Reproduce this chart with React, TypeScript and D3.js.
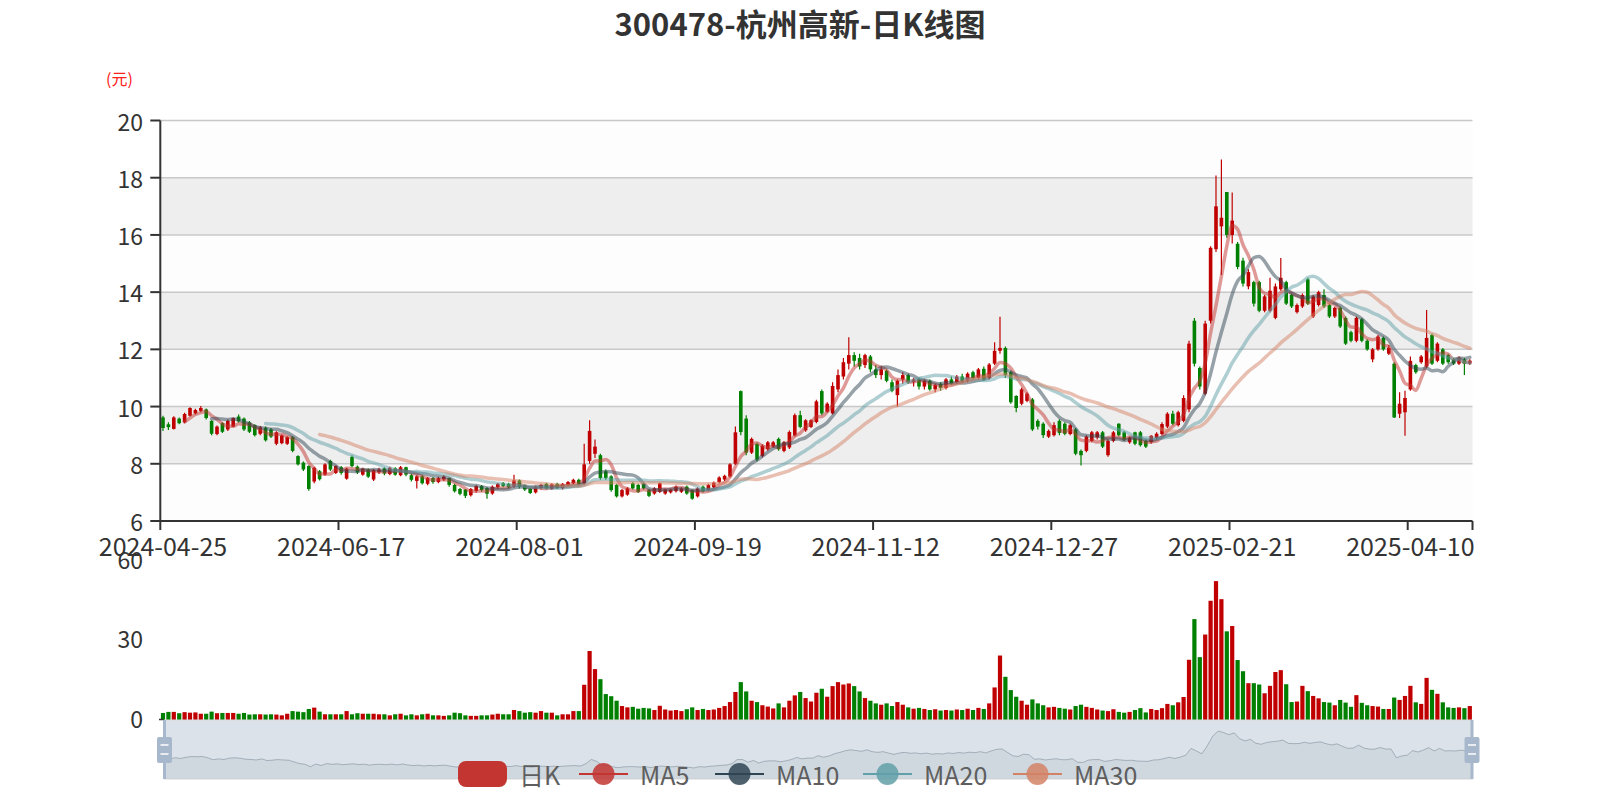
import React from "react";
import * as d3 from "d3";

const title = "300478-杭州高新-日K线图";
const dayCount = 243;
// exchange closed on these weekdays
const holidays = [
  "2024-05-01", "2024-05-02", "2024-05-03", "2024-06-10", "2024-09-16", "2024-09-17",
  "2024-10-01", "2024-10-02", "2024-10-03", "2024-10-04", "2024-10-07", "2025-01-01",
  "2025-01-28", "2025-01-29", "2025-01-30", "2025-01-31", "2025-02-03", "2025-02-04",
  "2025-04-04",
];

function tradingDays(): string[] {
  const out: string[] = [];
  const d = new Date(Date.UTC(2024, 3, 25));
  while (out.length < dayCount) {
    const s = d.toISOString().slice(0, 10);
    const wd = d.getUTCDay();
    if (wd !== 0 && wd !== 6 && !holidays.includes(s)) out.push(s);
    d.setUTCDate(d.getUTCDate() + 1);
  }
  return out;
}
const dates = tradingDays();

// [open, close, low, high]
const kData: number[][] = [
  [9.62, 9.25, 9.15, 9.68], [9.38, 9.28, 9.18, 9.45], [9.22, 9.62, 9.2, 9.66], [9.58, 9.42, 9.38, 9.62],
  [9.45, 9.74, 9.42, 9.78], [9.68, 9.95, 9.65, 9.98], [9.76, 9.88, 9.72, 9.92], [9.85, 9.95, 9.8, 10.02],
  [9.9, 9.6, 9.55, 9.93], [9.5, 9.05, 9.0, 9.52], [9.04, 9.3, 9.0, 9.34], [9.42, 9.12, 9.08, 9.45],
  [9.2, 9.5, 9.15, 9.55], [9.3, 9.6, 9.28, 9.62], [9.65, 9.48, 9.44, 9.72], [9.58, 9.2, 9.15, 9.62],
  [9.45, 9.12, 9.08, 9.5], [9.35, 9.0, 8.95, 9.38], [9.05, 9.28, 9.0, 9.32], [9.26, 8.82, 8.78, 9.3],
  [9.2, 8.95, 8.9, 9.25], [8.7, 9.1, 8.65, 9.14], [8.72, 8.99, 8.68, 9.02], [8.7, 8.93, 8.66, 8.96],
  [8.93, 8.45, 8.4, 8.96], [8.27, 7.98, 7.94, 8.3], [8.04, 7.8, 7.75, 8.08], [7.92, 7.12, 7.06, 7.95],
  [7.38, 7.86, 7.32, 7.9], [7.74, 7.46, 7.42, 7.78], [7.62, 7.98, 7.58, 8.02], [8.1, 7.8, 7.75, 8.14],
  [7.68, 7.92, 7.64, 7.95], [7.88, 7.68, 7.62, 7.92], [7.48, 7.83, 7.44, 7.86], [8.24, 7.92, 7.88, 8.3],
  [7.9, 7.7, 7.64, 7.94], [7.62, 7.82, 7.58, 7.86], [7.8, 7.55, 7.5, 7.84], [7.45, 7.78, 7.4, 7.82],
  [7.7, 7.8, 7.64, 7.86], [7.84, 7.66, 7.6, 7.88], [7.64, 7.86, 7.6, 7.9], [7.84, 7.62, 7.58, 7.88],
  [7.6, 7.88, 7.56, 7.92], [7.88, 7.62, 7.56, 7.9], [7.6, 7.44, 7.38, 7.64], [7.4, 7.56, 7.14, 7.6],
  [7.56, 7.32, 7.28, 7.6], [7.3, 7.5, 7.25, 7.54], [7.5, 7.36, 7.3, 7.54], [7.36, 7.5, 7.32, 7.55],
  [7.45, 7.55, 7.4, 7.6], [7.5, 7.26, 7.2, 7.52], [7.26, 7.04, 7.0, 7.3], [7.12, 6.95, 6.9, 7.15],
  [7.1, 6.88, 6.8, 7.12], [6.9, 7.12, 6.86, 7.15], [7.05, 7.22, 7.0, 7.25], [7.22, 7.08, 7.02, 7.26],
  [7.15, 6.95, 6.78, 7.18], [6.96, 7.2, 6.92, 7.24], [7.18, 7.3, 7.12, 7.33], [7.32, 7.22, 7.18, 7.36],
  [7.3, 7.18, 7.14, 7.34], [7.2, 7.42, 7.16, 7.62], [7.42, 7.2, 7.14, 7.45], [7.25, 7.1, 7.05, 7.28],
  [7.12, 6.98, 6.94, 7.15], [7.0, 7.2, 6.96, 7.24], [7.15, 7.26, 7.1, 7.3], [7.3, 7.14, 7.1, 7.34],
  [7.12, 7.28, 7.08, 7.32], [7.3, 7.16, 7.12, 7.34], [7.14, 7.3, 7.1, 7.33], [7.25, 7.36, 7.22, 7.4],
  [7.32, 7.44, 7.28, 7.48], [7.44, 7.3, 7.24, 7.48], [7.3, 7.98, 7.26, 8.7], [8.1, 9.15, 8.0, 9.52],
  [8.35, 8.6, 8.2, 8.85], [8.3, 7.5, 7.44, 8.35], [7.74, 7.5, 7.44, 7.8], [7.56, 7.08, 7.02, 7.6],
  [7.26, 6.86, 6.82, 7.3], [6.86, 7.08, 6.82, 7.12], [6.92, 7.14, 6.88, 7.18], [7.32, 7.14, 7.1, 7.36],
  [7.26, 7.02, 6.98, 7.3], [7.3, 7.14, 7.1, 7.34], [7.08, 6.88, 6.84, 7.12], [6.96, 7.14, 6.92, 7.18],
  [7.02, 7.32, 6.98, 7.35], [6.96, 7.1, 6.92, 7.13], [7.0, 7.1, 6.96, 7.13], [7.04, 7.2, 7.0, 7.24],
  [7.02, 7.14, 6.98, 7.18], [7.2, 6.96, 6.92, 7.24], [7.08, 6.78, 6.74, 7.1], [6.86, 7.14, 6.82, 7.18],
  [7.2, 7.04, 7.0, 7.24], [7.08, 7.26, 7.04, 7.3], [7.18, 7.34, 7.14, 7.38], [7.36, 7.52, 7.32, 7.56],
  [7.45, 7.58, 7.4, 7.62], [7.56, 7.98, 7.52, 8.02], [8.0, 9.1, 7.96, 9.3], [10.54, 9.11, 9.0, 10.56],
  [9.58, 8.39, 8.3, 9.7], [8.39, 8.87, 8.34, 8.92], [8.69, 8.15, 8.08, 8.74], [8.27, 8.63, 8.22, 8.68],
  [8.51, 8.75, 8.46, 8.8], [8.6, 8.75, 8.56, 8.8], [8.87, 8.51, 8.46, 8.92], [8.45, 8.75, 8.4, 8.8],
  [8.57, 9.11, 8.52, 9.16], [8.99, 9.7, 8.95, 9.76], [9.7, 9.29, 9.24, 9.85], [9.17, 9.52, 9.12, 9.56],
  [9.29, 9.52, 9.25, 9.56], [9.46, 10.18, 9.42, 10.24], [10.54, 9.76, 9.7, 10.6], [9.82, 10.1, 9.78, 10.15],
  [9.76, 10.72, 9.72, 10.85], [10.6, 11.1, 10.5, 11.3], [11.05, 11.55, 10.95, 11.7], [11.5, 11.8, 11.3, 12.42],
  [11.8, 11.6, 11.4, 11.9], [11.7, 11.4, 11.3, 11.85], [11.45, 11.8, 11.35, 11.85], [11.75, 11.3, 11.2, 11.8],
  [11.3, 11.1, 11.0, 11.45], [11.1, 11.3, 10.95, 11.4], [11.25, 10.9, 10.85, 11.3], [10.85, 10.55, 10.5, 10.95],
  [10.4, 10.9, 10.0, 10.95], [10.95, 11.1, 10.8, 11.2], [11.1, 10.85, 10.8, 11.15], [10.85, 10.95, 10.7, 11.0],
  [10.95, 10.7, 10.6, 11.0], [10.7, 10.9, 10.6, 10.95], [10.9, 10.6, 10.55, 10.95], [10.6, 10.75, 10.5, 10.8],
  [10.8, 10.65, 10.55, 10.85], [10.65, 10.95, 10.6, 11.0], [10.95, 10.8, 10.75, 11.05], [10.85, 11.05, 10.8, 11.1],
  [11.05, 10.9, 10.85, 11.15], [10.9, 11.15, 10.85, 11.2], [11.2, 11.0, 10.95, 11.25], [11.0, 11.3, 10.95, 11.35],
  [11.32, 10.95, 10.9, 11.4], [11.0, 11.47, 10.95, 11.52], [11.5, 11.95, 11.45, 12.25], [11.95, 12.05, 11.85, 13.14],
  [12.05, 11.1, 11.0, 12.1], [11.2, 10.15, 10.1, 11.25], [10.37, 9.95, 9.8, 10.4], [10.1, 10.6, 10.05, 10.66],
  [10.2, 10.45, 10.15, 10.5], [10.25, 9.2, 9.15, 10.3], [9.5, 9.3, 9.2, 9.56], [9.4, 9.0, 8.9, 9.45],
  [8.95, 9.15, 8.9, 9.2], [9.0, 9.35, 8.95, 9.45], [9.5, 9.08, 9.0, 9.56], [9.4, 9.05, 9.0, 9.45],
  [9.04, 9.35, 9.0, 9.4], [9.2, 8.35, 8.3, 9.25], [8.45, 8.3, 7.94, 8.5], [8.45, 8.95, 8.4, 9.0],
  [8.8, 9.1, 8.75, 9.15], [8.92, 9.1, 8.85, 9.15], [9.1, 8.6, 8.55, 9.15], [8.3, 8.8, 8.25, 8.85],
  [8.8, 9.1, 8.75, 9.15], [9.4, 9.0, 8.95, 9.42], [9.1, 8.85, 8.8, 9.15], [8.75, 8.92, 8.7, 8.95],
  [9.1, 8.7, 8.65, 9.12], [9.1, 8.65, 8.6, 9.15], [8.8, 8.6, 8.55, 8.85], [8.75, 8.98, 8.7, 9.0],
  [8.9, 9.05, 8.85, 9.1], [9.04, 9.39, 9.0, 9.45], [9.3, 9.75, 9.25, 9.8], [9.75, 9.4, 9.35, 9.85],
  [9.35, 9.8, 9.3, 9.85], [9.5, 10.3, 9.45, 10.4], [9.9, 12.2, 9.8, 12.3], [13.0, 11.5, 11.4, 13.1],
  [11.35, 10.7, 10.6, 11.4], [10.45, 12.9, 10.4, 13.0], [13.0, 15.55, 12.9, 15.6], [15.5, 17.0, 15.4, 18.08],
  [16.3, 16.6, 14.6, 18.64], [17.5, 16.0, 15.9, 17.5], [16.0, 16.5, 15.7, 17.48], [15.69, 14.88, 14.8, 15.75],
  [15.1, 14.3, 14.2, 15.2], [14.2, 14.7, 14.1, 14.8], [14.35, 13.6, 13.5, 14.4], [14.35, 13.35, 13.3, 14.4],
  [13.35, 13.85, 13.3, 13.9], [13.35, 14.05, 13.3, 14.5], [13.1, 14.2, 13.05, 14.3], [14.1, 14.5, 14.05, 15.19],
  [14.35, 13.6, 13.55, 14.4], [13.9, 13.5, 13.45, 13.95], [13.3, 13.55, 13.25, 13.6], [13.5, 13.9, 13.45, 13.95],
  [14.45, 13.6, 13.55, 14.5], [13.15, 13.85, 13.1, 13.9], [13.55, 14.0, 13.5, 14.05], [13.9, 13.5, 13.45, 14.1],
  [13.55, 13.15, 13.1, 13.6], [13.15, 13.45, 13.1, 13.5], [13.45, 12.8, 12.75, 13.5], [13.1, 12.2, 12.15, 13.15],
  [12.6, 12.3, 12.25, 12.65], [12.3, 13.1, 12.25, 13.15], [13.05, 12.3, 12.25, 13.1], [12.3, 12.0, 11.95, 12.35],
  [11.65, 12.0, 11.55, 12.05], [12.0, 12.45, 11.95, 12.5], [12.4, 12.0, 11.95, 12.45], [11.85, 12.05, 11.8, 12.15],
  [11.5, 9.62, 9.6, 11.55], [9.75, 10.1, 9.6, 10.5], [9.8, 10.3, 8.98, 10.55], [10.6, 11.6, 10.55, 11.75],
  [11.45, 11.2, 11.15, 11.5], [11.55, 11.75, 11.5, 11.8], [11.4, 12.4, 11.35, 13.38], [12.5, 11.5, 11.45, 12.55],
  [11.6, 12.2, 11.55, 12.25], [12.0, 11.5, 11.45, 12.05], [11.8, 11.55, 11.5, 11.85], [11.65, 11.5, 11.45, 11.7],
  [11.5, 11.7, 11.45, 11.75], [11.65, 11.5, 11.1, 11.7], [11.5, 11.6, 11.45, 11.65],
];

// 成交量 (万手)
const volumes = [
  1.9, 2.3, 2.3, 1.8, 2.2, 2.0, 2.1, 1.6, 1.6, 2.4, 1.8, 1.9, 1.9, 1.9, 1.6, 1.9, 1.3, 1.4, 1.4, 1.3,
  1.4, 1.3, 1.0, 1.6, 2.6, 2.4, 2.2, 3.4, 3.9, 2.4, 1.4, 1.4, 1.4, 1.4, 2.6, 1.4, 1.8, 1.6, 1.6, 1.6,
  1.4, 1.4, 1.0, 1.4, 1.6, 1.0, 1.4, 1.0, 1.4, 1.6, 1.0, 1.0, 0.8, 1.0, 2.0, 1.8, 1.0, 0.8, 0.8, 1.0,
  1.0, 1.3, 1.6, 1.4, 1.4, 3.0, 2.6, 2.0, 2.2, 2.0, 2.6, 2.0, 2.0, 1.0, 1.4, 1.4, 2.6, 2.6, 12.5, 25.2,
  18.4, 14.6, 9.0, 8.2, 6.5, 4.5, 4.0, 4.2, 3.5, 3.8, 3.6, 3.0, 4.6, 3.2, 2.8, 3.0, 2.6, 3.3, 4.0, 3.0,
  3.4, 3.0, 3.2, 3.8, 4.5, 6.0, 9.8, 13.5, 10.0, 6.5, 6.0, 4.8, 4.3, 3.6, 5.5, 4.0, 6.5, 8.5, 9.8, 7.5,
  6.2, 9.5, 11.0, 8.0, 12.0, 13.5, 12.6, 13.0, 12.0, 10.0, 7.5, 6.5, 5.5, 5.0, 5.5, 4.5, 6.0, 5.0, 4.0, 3.5,
  3.8, 3.4, 3.0, 3.3, 2.8, 3.0, 2.8, 3.2, 3.0, 3.5, 3.0, 3.8, 3.4, 5.5, 11.5, 23.5, 15.5, 10.5, 8.0, 6.5,
  5.0, 7.0, 5.5, 4.8, 4.0, 4.2, 3.8, 3.5, 3.2, 4.5, 5.0, 4.2, 3.8, 3.2, 2.8, 2.6, 3.3, 2.3, 2.0, 2.3,
  3.0, 3.7, 2.1, 3.4, 3.0, 3.7, 5.3, 4.8, 5.9, 7.9, 21.9, 37.2, 22.9, 31.4, 44.1, 51.5, 44.7, 32.6, 34.6, 21.8,
  17.6, 13.1, 13.1, 12.6, 9.3, 12.1, 17.3, 18.0, 12.7, 6.0, 6.2, 12.1, 10.1, 8.3, 7.4, 6.0, 5.8, 4.8, 6.8, 5.8,
  4.2, 8.6, 5.7, 4.8, 4.5, 4.3, 3.4, 3.4, 7.7, 6.8, 8.3, 12.1, 5.9, 5.3, 15.1, 10.6, 9.1, 5.9, 4.0, 3.8,
  4.0, 3.7, 4.5,
];

const priceTicks = [6, 8, 10, 12, 14, 16, 18, 20];
const volumeTicks = [0, 30, 60];
const labelEvery = 33;
const maPeriods = [5, 10, 20, 30];
const maNames = ["MA5", "MA10", "MA20", "MA30"];
const maColors = ["#c23531", "#2f4554", "#61a0a8", "#d48265"];
const upColor = "#c00000";
const downColor = "#008000";
const font = "'Noto Sans CJK SC', 'Noto Sans', sans-serif";

function movingAverage(n: number, closes: number[]): (number | null)[] {
  return closes.map((_, i) => {
    if (i < n - 1) return null;
    let s = 0;
    for (let j = i - n + 1; j <= i; j++) s += closes[j];
    return s / n;
  });
}

export default function App() {
  const [gL, gR, gT, gB] = [160.3, 1472.5, 120.5, 521];
  const [vT, vB] = [558.5, 718];
  const [sL, sR, sT, sB] = [164.5, 1472, 720, 779];

  const x = d3.scaleBand<string>().domain(dates).range([gL, gR]);
  const bw = x.bandwidth();
  const cx = (i: number) => (x(dates[i]) as number) + bw / 2;
  const y = d3.scaleLinear().domain([6, 20]).range([gB, gT]);
  const yv = d3.scaleLinear().domain([0, 60]).range([vB, vT]);

  const closes = kData.map((d) => d[1]);
  const mas = maPeriods.map((n) => movingAverage(n, closes));
  const maLine = d3
    .line<number | null>()
    .defined((v) => v != null)
    .x((_, i) => cx(i))
    .y((v) => y(v as number))
    .curve(d3.curveMonotoneX);

  // dataZoom shadow
  const [cMin, cMax] = d3.extent(closes) as [number, number];
  const off = (cMax - cMin) * 0.3;
  const sx = d3.scaleLinear().domain([0, closes.length - 1]).range([sL, sR]);
  const sy = d3.scaleLinear().domain([cMin - off, cMax + off]).range([sB, sT]);
  const shadowLine = d3.line<number>().x((_, i) => sx(i)).y((v) => sy(v));
  const shadowArea = d3.area<number>().x((_, i) => sx(i)).y0(sB).y1((v) => sy(v));

  const labelIdx = dates.map((_, i) => i).filter((i) => i % labelEvery === 0);

  const legendX = [458, 579, 715, 863, 1013];
  const legendY = 774;

  const handle = (hx: number, key: string) => (
    <g key={key}>
      <rect x={hx - 1.5} y={sT} width={3} height={sB - sT} fill="#a7b7cc" />
      <rect x={hx - 7.5} y={737} width={15} height={26} rx={2} fill="#a7b7cc" />
      <line x1={hx - 4} x2={hx + 4} y1={745} y2={745} stroke="#fff" strokeWidth={1.5} />
      <line x1={hx - 4} x2={hx + 4} y1={754} y2={754} stroke="#fff" strokeWidth={1.5} />
    </g>
  );

  return (
    <svg width={1600} height={800} style={{ position: "absolute", left: 0, top: 0, background: "#fff" }} fontFamily={font}>
      <text x={800} y={22.5} textAnchor="middle" dominantBaseline="central" fontSize={31} fontWeight="bold" fill="#333">
        {title}
      </text>
      <text x={119.5} y={77.5} textAnchor="middle" dominantBaseline="central" fontSize={16} fill="#ff2020">
        (元)
      </text>

      {/* split areas */}
      {priceTicks.slice(0, -1).map((v, k) => (
        <rect key={"sa" + v} x={gL} y={y(v + 2)} width={gR - gL} height={y(v) - y(v + 2)} fill={k % 2 === 0 ? "#fdfdfd" : "#eeeeee"} />
      ))}
      {priceTicks.slice(1).map((v) => (
        <line key={"gl" + v} x1={gL} x2={gR} y1={y(v)} y2={y(v)} stroke="#c8c8c8" strokeWidth={1.5} />
      ))}

      {/* candles */}
      {kData.map((d, i) => {
        const [o, c, l, h] = d;
        const col = c >= o ? upColor : downColor;
        const xc = cx(i);
        const top = y(Math.max(o, c));
        const bot = y(Math.min(o, c));
        return (
          <g key={"k" + i}>
            <line x1={xc} x2={xc} y1={y(h)} y2={y(l)} stroke={col} strokeWidth={1.2} />
            <rect x={xc - 1.8} y={top} width={3.6} height={Math.max(1, bot - top)} fill={col} />
          </g>
        );
      })}

      {/* moving averages */}
      {mas.map((m, k) => (
        <path key={"ma" + k} d={maLine(m) || ""} fill="none" stroke={maColors[k]} strokeWidth={3.5} strokeOpacity={0.5} strokeLinejoin="round" strokeLinecap="round" />
      ))}

      {/* price axes */}
      <line x1={gL} x2={gL} y1={gT} y2={gB} stroke="#333" strokeWidth={2} />
      <line x1={gL} x2={gR} y1={gB} y2={gB} stroke="#333" strokeWidth={2} />
      {priceTicks.map((v) => (
        <g key={"yt" + v}>
          <line x1={gL - 10} x2={gL} y1={y(v)} y2={y(v)} stroke="#333" strokeWidth={2} />
          <text x={143} y={y(v)} textAnchor="end" dominantBaseline="central" fontSize={23} fill="#333">
            {v}
          </text>
        </g>
      ))}
      {labelIdx.map((i) => (
        <g key={"xt" + i}>
          <line x1={x(dates[i])} x2={x(dates[i])} y1={gB} y2={gB + 9} stroke="#333" strokeWidth={2} />
          <text x={cx(i)} y={545} textAnchor="middle" dominantBaseline="central" fontSize={25} fill="#333">
            {dates[i]}
          </text>
        </g>
      ))}
      <line x1={gR} x2={gR} y1={gB} y2={gB + 9} stroke="#333" strokeWidth={2} />

      {/* volume */}
      {volumes.map((v, i) => {
        const [o, c] = kData[i];
        return (
          <rect key={"v" + i} x={cx(i) - 2.1} y={yv(v)} width={4.2} height={vB - yv(v) + 2} fill={c >= o ? upColor : downColor} />
        );
      })}
      {volumeTicks.map((v) => (
        <text key={"vt" + v} x={143} y={yv(v)} textAnchor="end" dominantBaseline="central" fontSize={23} fill="#333">
          {v}
        </text>
      ))}
      <line x1={159} x2={163} y1={719.5} y2={719.5} stroke="#333" strokeWidth={1.5} />

      {/* data zoom slider */}
      <rect x={sL} y={sT} width={sR - sL} height={sB - sT} fill="#dce2ea" stroke="#d8d8d8" strokeWidth={1} />
      <path d={shadowArea(closes) || ""} fill="rgba(47,69,84,0.07)" />
      <path d={shadowLine(closes) || ""} fill="none" stroke="rgba(47,69,84,0.3)" strokeWidth={1} />
      {handle(sL, "hl")}
      {handle(sR, "hr")}

      {/* legend */}
      <g>
        <rect x={legendX[0]} y={legendY - 13} width={49} height={26} rx={8} fill="#c23531" />
        <text x={legendX[0] + 61} y={legendY} dominantBaseline="central" fontSize={25} fill="#5e5e5e">
          日K
        </text>
        {maNames.map((n, k) => (
          <g key={"lg" + n}>
            <line x1={legendX[k + 1]} x2={legendX[k + 1] + 49} y1={legendY} y2={legendY} stroke={maColors[k]} strokeWidth={2} />
            <circle cx={legendX[k + 1] + 24.5} cy={legendY} r={11} fill={maColors[k]} fillOpacity={0.85} />
            <text x={legendX[k + 1] + 61} y={legendY} dominantBaseline="central" fontSize={25} fill="#5e5e5e">
              {n}
            </text>
          </g>
        ))}
      </g>
    </svg>
  );
}
